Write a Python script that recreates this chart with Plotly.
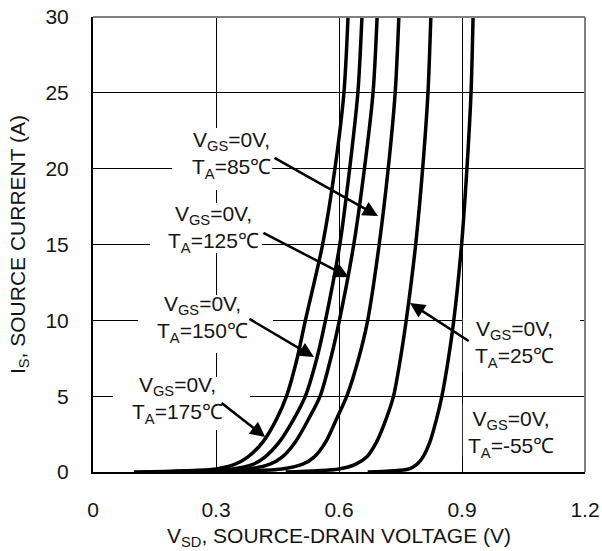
import plotly.graph_objects as go

# Source current levels (A) shared by all curves
current_A = [0, 0.2, 0.5, 1, 2, 3.5, 5, 7.5, 10, 15, 20, 25, 30]

# Source-drain voltage (V) for each junction temperature
vsd_175 = [0.10, 0.30, 0.345, 0.378, 0.415, 0.448, 0.472, 0.498, 0.518, 0.560, 0.590, 0.612, 0.622]
vsd_150 = [0.15, 0.34, 0.390, 0.420, 0.455, 0.490, 0.518, 0.546, 0.567, 0.602, 0.626, 0.646, 0.656]
vsd_125 = [0.22, 0.38, 0.430, 0.462, 0.494, 0.526, 0.554, 0.580, 0.601, 0.636, 0.662, 0.683, 0.693]
vsd_85  = [0.30, 0.46, 0.510, 0.540, 0.568, 0.594, 0.619, 0.648, 0.670, 0.698, 0.720, 0.737, 0.746]
vsd_25  = [0.47, 0.60, 0.640, 0.668, 0.692, 0.715, 0.733, 0.750, 0.764, 0.787, 0.804, 0.817, 0.824]
vsd_m55 = [0.67, 0.77, 0.790, 0.805, 0.822, 0.838, 0.851, 0.867, 0.880, 0.899, 0.912, 0.922, 0.927]

series = [("175", vsd_175), ("150", vsd_150), ("125", vsd_125),
          ("85", vsd_85), ("25", vsd_25), ("-55", vsd_m55)]

x_ticks = [0, 0.3, 0.6, 0.9, 1.2]
y_ticks = [0, 5, 10, 15, 20, 25, 30]

FONT = "Liberation Sans, Arial, sans-serif"
FS = 21
TXT = "#151515"

fig = go.Figure()
for name, v in series:
    fig.add_trace(go.Scatter(
        x=v, y=current_A, mode="lines", name=name,
        line=dict(color="black", width=3.5, shape="spline", smoothing=0.8),
        showlegend=False, hoverinfo="skip", cliponaxis=True))

def lab(t):
    return "V<sub>GS</sub>=0V,<br>T<sub>A</sub>=" + t + "℃"

# label boxes (x0, x1, y0, y1), text centres and arrows (tail -> tip)
labels = [
    dict(t="85",  box=(0.193, 0.437, 18.59, 22.68), c=(0.337, 20.90), arrow=((0.439, 20.77), (0.695, 16.88))),
    dict(t="125", box=(0.139, 0.412, 14.44, 17.74), c=(0.295, 16.02), arrow=((0.412, 15.82), (0.624, 12.84))),
    dict(t="150", box=(0.110, 0.439, 7.85, 11.67),  c=(0.266, 10.09), arrow=((0.378, 10.15), (0.539, 7.58))),
    dict(t="175", box=(0.049, 0.383, 2.77, 6.26),   c=(0.207, 4.75),  arrow=((0.310, 4.62), (0.420, 2.31))),
    dict(t="25",  box=(0.902, 1.188, 6.59, 10.15),  c=(1.029, 8.44),  arrow=((0.920, 8.57), (0.773, 11.14))),
    dict(t="-55", box=(0.902, 1.199, 0.99, 4.55),   c=(1.020, 2.51),  arrow=None),
]

shapes = []
annotations = []
for L in labels:
    x0, x1, y0, y1 = L["box"]
    shapes.append(dict(type="rect", xref="x", yref="y", x0=x0, x1=x1, y0=y0, y1=y1,
                       fillcolor="white", line=dict(width=0), layer="between"))
    annotations.append(dict(x=L["c"][0], y=L["c"][1], xref="x", yref="y", text=lab(L["t"]),
                            showarrow=False, font=dict(family=FONT, size=FS, color=TXT),
                            align="center"))
    if L["arrow"]:
        (tx, ty), (hx, hy) = L["arrow"]
        annotations.append(dict(x=hx, y=hy, ax=tx, ay=ty, xref="x", yref="y",
                                axref="x", ayref="y", text="", showarrow=True,
                                arrowhead=2, arrowsize=1.2, arrowwidth=2.5,
                                arrowcolor="black", standoff=0, startstandoff=0))

# top and right frame in grey
shapes.append(dict(type="line", xref="paper", yref="paper", x0=0, x1=1, y0=1, y1=1,
                   line=dict(color="#808080", width=2), layer="above"))
shapes.append(dict(type="line", xref="paper", yref="paper", x0=1, x1=1, y0=0, y1=1,
                   line=dict(color="#808080", width=2), layer="above"))

fig.update_layout(
    width=602, height=551,
    margin=dict(l=93, r=17, t=17, b=79, autoexpand=False),
    paper_bgcolor="white", plot_bgcolor="white",
    font=dict(family=FONT, size=FS, color=TXT),
    shapes=shapes, annotations=annotations,
)
fig.update_xaxes(
    range=[0, 1.2], tickvals=x_ticks, ticktext=[str(v) for v in x_ticks],
    showgrid=True, gridcolor="black", gridwidth=1, zeroline=False,
    showline=True, linecolor="black", linewidth=2, automargin=False,
    ticks="outside", ticklen=18, tickcolor="rgba(0,0,0,0)",
    tickfont=dict(family=FONT, size=FS, color=TXT),
    title=dict(text="V<sub>SD</sub>, SOURCE-DRAIN VOLTAGE (V)",
               font=dict(family=FONT, size=FS, color=TXT), standoff=8),
)
fig.update_yaxes(
    range=[0, 30], tickvals=y_ticks, ticktext=[str(v) for v in y_ticks],
    showgrid=True, gridcolor="black", gridwidth=1, zeroline=False,
    showline=True, linecolor="black", linewidth=2, automargin=False,
    ticks="outside", ticklen=18, tickcolor="rgba(0,0,0,0)",
    tickfont=dict(family=FONT, size=FS, color=TXT),
    title=dict(text="I<sub>S</sub>, SOURCE CURRENT (A)",
               font=dict(family=FONT, size=FS, color=TXT), standoff=14),
)

fig.write_html("out.html",
               config={"displayModeBar": False},
               post_script="document.body.style.margin='0';document.body.style.padding='0';"
                           "document.documentElement.style.overflow='hidden';")
